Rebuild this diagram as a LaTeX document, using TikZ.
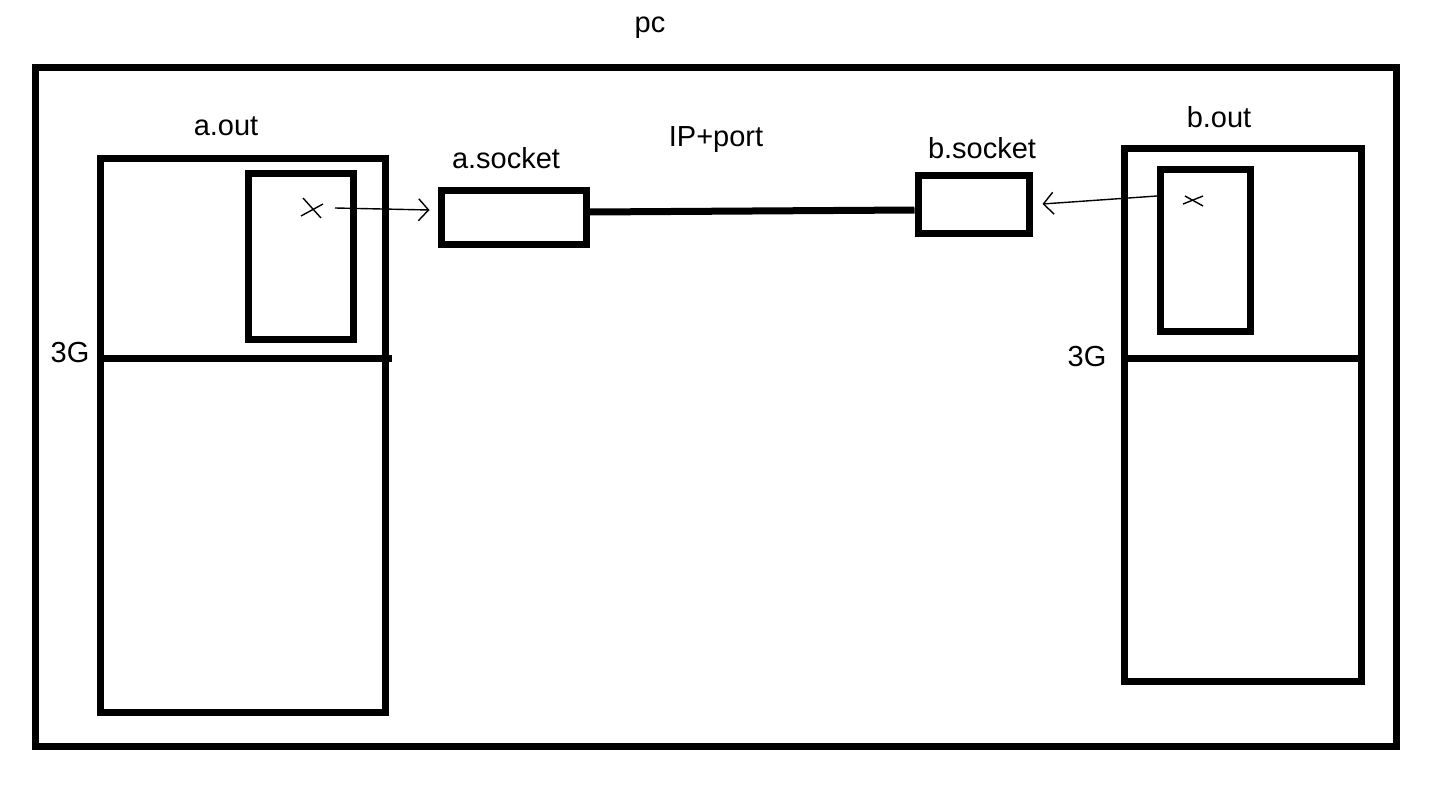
\documentclass[tikz,border=0pt]{standalone}
\usepackage{fontspec}
\setmainfont{Liberation Sans}
\usetikzlibrary{arrows.meta}
\begin{document}
\begin{tikzpicture}[x=1pt,y=-1pt,
  box/.style={draw=black,line width=7pt,rectangle,inner sep=0pt,fill=none},
  lbl/.style={font=\fontsize{29}{34}\selectfont,inner sep=0pt},
  thin/.style={line width=1.4pt},
  tip/.style={-{Straight Barb[length=10pt,width=22pt,line width=1.4pt]}}]
\useasboundingbox (0,0) rectangle (1441,787);
\fill[white] (0,0) rectangle (1441,787);
% boxes
\node[box,minimum width=1361pt,minimum height=679pt] (pc) at (715.5,406.5) {};
\node[box,minimum width=285pt,minimum height=554pt] (aout) at (242.5,435) {};
\node[box,minimum width=105pt,minimum height=166pt] (ain) at (300.5,256) {};
\node[box,minimum width=145pt,minimum height=54pt] (asock) at (513.5,217) {};
\node[box,minimum width=111pt,minimum height=58pt] (bsock) at (973.5,204) {};
\node[box,minimum width=237pt,minimum height=533pt] (bout) at (1242.5,414.5) {};
\node[box,minimum width=90pt,minimum height=162pt] (bin) at (1205,250) {};
% dividers
\draw[line width=7pt] (aout.west |- 0,358) -- ([xshift=3pt]aout.east |- 0,358);
\draw[line width=7pt] (bout.west |- 0,358) -- (bout.east |- 0,358);
% IP line
\draw[line width=7pt] ([yshift=5pt]asock.east) -- ([yshift=-6pt]bsock.west);
% labels
\node[lbl] (lpc) at (650,28) {pc};
\node[lbl] (laout) at (226,126) {a.out};
\node[lbl] (lbout) at (1219,117) {b.out};
\node[lbl] (lasock) at (506,158) {a.socket};
\node[lbl] (lbsock) at (982,148) {b.socket};
\node[lbl] (lip) at (716,140) {IP+port};
\node[lbl] (l3ga) at (70,353) {3G};
\node[lbl] (l3gb) at (1087,357) {3G};
% x marks
\coordinate (xa) at (313,208);
\coordinate (xb) at (1193,200);
\draw[thin] ([shift={(-10,-10)}]xa) -- ([shift={(8,10)}]xa);
\draw[thin] ([shift={(-12,8)}]xa) -- ([shift={(10,-4)}]xa);
\draw[thin] ([shift={(-8,-4)}]xb) -- ([shift={(10,6)}]xb);
\draw[thin] ([shift={(-10,4)}]xb) -- ([shift={(10,-4)}]xb);
% arrows
\coordinate (sa) at (335,208);
\coordinate (sb) at (1157,196);
\draw[thin,tip] (sa) -- ([xshift=-8pt,yshift=7pt]asock.west);
\draw[thin,tip] (sb) -- ([xshift=10pt]bsock.east);
\end{tikzpicture}
\end{document}
